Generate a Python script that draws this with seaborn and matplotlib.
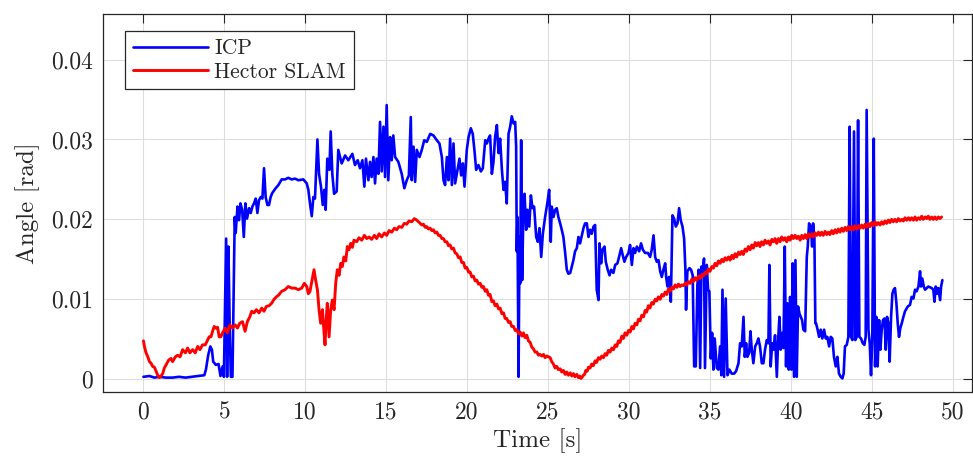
import matplotlib
matplotlib.use("Agg")
import matplotlib.pyplot as plt
from matplotlib.ticker import FuncFormatter
import numpy as np
import pandas as pd
import seaborn as sns

# ---------------- data ----------------
icp_t = [0, .37, .68, .99, 1.4, 1.8, 2.2, 2.6, 3.0, 3.45, 3.76, 3.86, 4.0, 4.13, 4.23, 4.31, 4.47, 4.64, 4.76, 4.89, 4.97,
         5.11, 5.17, 5.25, 5.34, 5.4, 5.5, 5.64, 5.7, 5.81, 5.91, 5.99, 6.1, 6.2, 6.3, 6.4, 6.53, 6.63, 6.73, 6.83, 6.94,
         7.04, 7.14, 7.25, 7.35, 7.45, 7.55, 7.66, 7.76, 7.86, 7.96, 8.17,
         8.34, 8.54, 8.75, 8.95, 9.16, 9.37, 9.57, 9.88, 10.09, 10.19, 10.29, 10.4, 10.5, 10.6, 10.75, 10.85, 10.97, 11.08,
         11.18, 11.26, 11.36, 11.49, 11.57, 11.67, 11.78, 11.94, 12.04, 12.15, 12.25, 12.46, 12.66, 12.91, 13.07, 13.24,
         13.38, 13.53, 13.65, 13.75, 13.9, 14.0, 14.1, 14.21, 14.31, 14.41, 14.52, 14.62, 14.72, 14.83, 14.93, 15.03,
         15.13, 15.24, 15.34, 15.44, 15.55, 15.75, 15.96, 16.12, 16.27, 16.4,
         16.52, 16.58, 16.69, 16.79, 16.89, 17.06, 17.2, 17.35, 17.51, 17.72, 17.92, 18.13, 18.29, 18.44, 18.54, 18.64,
         18.75, 18.85, 18.95, 19.06, 19.16, 19.26, 19.41, 19.53, 19.63, 19.74, 19.84, 19.98, 20.09, 20.23, 20.35, 20.46,
         20.56, 20.7, 20.85, 20.97, 21.12, 21.22, 21.32, 21.42, 21.53, 21.63, 21.73, 21.84, 21.94, 22.04, 22.15, 22.25,
         22.35, 22.45, 22.56, 22.66, 22.76, 22.87, 22.97, 23.03, 23.07, 23.11, 23.18, 23.24, 23.28, 23.34, 23.4, 23.48,
         23.55, 23.65, 23.73, 23.84, 23.94, 24.04, 24.14, 24.27, 24.37, 24.47, 24.58, 24.68, 24.82, 24.97,
         25.07, 25.17, 25.23, 25.34, 25.44, 25.54, 25.64, 25.75, 25.85, 25.95, 26.06, 26.16, 26.26, 26.37, 26.47, 26.57,
         26.67, 26.78, 26.88, 26.98, 27.09, 27.19, 27.29, 27.4, 27.5, 27.6, 27.7, 27.81, 27.91, 28.01, 28.12, 28.18, 28.28,
         28.36, 28.49, 28.57, 28.69, 28.8, 28.9, 29.04, 29.15, 29.29, 29.39, 29.52, 29.62, 29.72, 29.83, 29.97, 30.07,
         30.18, 30.28, 30.38, 30.49, 30.63, 30.75, 30.86, 31.0, 31.17, 31.31, 31.41, 31.52, 31.62, 31.72, 31.83, 31.93,
         32.03, 32.13, 32.24, 32.3, 32.38, 32.48, 32.59, 32.69, 32.79, 32.9, 33.0, 33.1, 33.2, 33.31,
         33.41, 33.49, 33.53, 33.61, 33.74, 33.84, 33.94, 34.03, 34.13, 34.23, 34.31, 34.4, 34.48, 34.56, 34.64, 34.7,
         34.81, 34.89, 34.97, 35.06, 35.14, 35.22, 35.3, 35.43, 35.53, 35.63, 35.71, 35.78, 35.88, 35.98, 36.09, 36.21,
         36.35, 36.5, 36.62, 36.77, 36.87, 36.97, 37.08, 37.16, 37.24, 37.32, 37.43, 37.51, 37.59, 37.69, 37.8, 37.9,
         38.0, 38.1, 38.21, 38.31, 38.41, 38.52, 38.62, 38.68, 38.76, 38.85, 38.93, 39.03, 39.14, 39.22, 39.3, 39.38,
         39.46, 39.55, 39.63, 39.71, 39.79, 39.88, 39.96, 40.04, 40.12, 40.2, 40.29, 40.37, 40.45, 40.54, 40.62, 40.7,
         40.78, 40.89, 40.99, 41.05, 41.13, 41.24, 41.32, 41.38, 41.46, 41.52,
         41.56, 41.66, 41.75, 41.85, 41.95, 42.06, 42.16, 42.26, 42.37, 42.47, 42.57, 42.67, 42.78, 42.88, 42.98, 43.09,
         43.19, 43.27, 43.35, 43.46, 43.56, 43.64, 43.72, 43.81, 43.91, 43.99, 44.08, 44.16, 44.24, 44.34, 44.45, 44.55,
         44.63, 44.69, 44.8, 44.88, 44.96, 45.04, 45.13, 45.21, 45.29, 45.37, 45.46, 45.54, 45.62, 45.7, 45.79, 45.87,
         45.95, 46.03, 46.11, 46.2, 46.28, 46.36, 46.44, 46.53, 46.61, 46.69, 46.77, 46.86, 46.96, 47.06, 47.23, 47.37,
         47.47, 47.58, 47.68, 47.78, 47.89, 47.99, 48.05, 48.13, 48.22, 48.3, 48.4, 48.5, 48.61, 48.71, 48.81, 48.88,
         48.96, 49.04, 49.12, 49.23, 49.29, 49.37]
icp_v = [.0003, .0004, .0002, .0003, .0002, .0002, .0003, .0002, .0003, .0004, .0005, .0012, .0030, .0041, .0037, .0022,
         .0018, .0019, .0004, .0016, .0003, .0176, .0003, .0166, .0053, .0003, .0003, .0203, .0183, .0216, .0199, .0220,
         .0212, .0178, .0220, .0201, .0214, .0208, .0216, .0220, .0226, .0208, .0224, .0228, .0226, .0264, .0228, .0218,
         .0218, .0228, .0233, .0239,
         .0243, .0250, .0250, .0252, .0250, .0251, .0249, .0250, .0245, .0237, .0220, .0204, .0228, .0226, .0300, .0257,
         .0241, .0218, .0237, .0212, .0276, .0262, .0310, .0257, .0232, .0235, .0287, .0278, .0270, .0280, .0274, .0282,
         .0268, .0274, .0264, .0274, .0241, .0276, .0249, .0272, .0253, .0278, .0245, .0276, .0257, .0322, .0260, .0316,
         .0253, .0343, .0249, .0303, .0274, .0305, .0278, .0272, .0257, .0239, .0249, .0255,
         .0328, .0249, .0291, .0247, .0287, .0278, .0287, .0299, .0297, .0307, .0305, .0299, .0295, .0278, .0249, .0243,
         .0278, .0249, .0301, .0243, .0295, .0245, .0262, .0276, .0255, .0270, .0241, .0287, .0303, .0314, .0307, .0285,
         .0262, .0268, .0260, .0264, .0299, .0295, .0301, .0305, .0257, .0272, .0303, .0318, .0283, .0301, .0262, .0237,
         .0247, .0220, .0307, .0316, .0329, .0320, .0322, .0291, .0160, .0203, .0003, .0178, .0120, .0299, .0124, .0212,
         .0232, .0187, .0212, .0191, .0230, .0214, .0216, .0178, .0172, .0189, .0153, .0182, .0203, .0222,
         .0237, .0172, .0216, .0203, .0212, .0214, .0203, .0195, .0187, .0178, .0158, .0137, .0132, .0133, .0141, .0149,
         .0160, .0164, .0178, .0170, .0180, .0189, .0195, .0195, .0178, .0187, .0182, .0191, .0193, .0112, .0099, .0170,
         .0145, .0162, .0166, .0147, .0137, .0130, .0137, .0133, .0143, .0145, .0153, .0164, .0155, .0147, .0153, .0158,
         .0168, .0143, .0164, .0158, .0166, .0160, .0170, .0162, .0158, .0158, .0153, .0162, .0180, .0153, .0147, .0149,
         .0135, .0128, .0137, .0145, .0128, .0116, .0128, .0097, .0205, .0201, .0191, .0195, .0214, .0199, .0191,
         .0176, .0137, .0087, .0135, .0139, .0137, .0130, .0016, .0016, .0118, .0137, .0014, .0141, .0135, .0151, .0014,
         .0143, .0112, .0110, .0026, .0058, .0012, .0051, .0014, .0012, .0041, .0005, .0112, .0003, .0101, .0005, .0012,
         .0007, .0007, .0010, .0020, .0045, .0041, .0078, .0028, .0045, .0028, .0033, .0060, .0037, .0020, .0041, .0045,
         .0051, .0041, .0020, .0020, .0037, .0049, .0045, .0143, .0016, .0045, .0037, .0055, .0003, .0049, .0078, .0037,
         .0058, .0039, .0166, .0016, .0095, .0012, .0103, .0012, .0145, .0003, .0149, .0003, .0091, .0082, .0078, .0074,
         .0062, .0060, .0153, .0166, .0195, .0191, .0166, .0195, .0178, .0070,
         .0070, .0062, .0053, .0062, .0051, .0062, .0051, .0053, .0041, .0053, .0051, .0028, .0016, .0028, .0007, .0003,
         .0001, .0007, .0041, .0043, .0053, .0316, .0053, .0049, .0310, .0049, .0053, .0324, .0053, .0051, .0045, .0043,
         .0053, .0337, .0062, .0045, .0005, .0053, .0301, .0016, .0078, .0016, .0074, .0037, .0062, .0074, .0076, .0037,
         .0078, .0070, .0022, .0078, .0107, .0112, .0114, .0095, .0070, .0053, .0064, .0070, .0078, .0085, .0091, .0093,
         .0103, .0101, .0112, .0110, .0116, .0135, .0116, .0126, .0116, .0112, .0114, .0116, .0115, .0114, .0112, .0097,
         .0116, .0107, .0114, .0099, .0116, .0124]

hector_t = [0, .06, .16, .27, .37, .47, .57, .68, .78, .88, .99, 1.09, 1.19, 1.29, 1.4, 1.56, 1.7, 1.8, 1.97, 2.11, 2.26,
            2.42, 2.59, 2.73, 2.87, 3.04, 3.2, 3.35, 3.49, 3.65, 3.82, 3.96, 4.06, 4.17, 4.27, 4.37, 4.47, 4.58, 4.68,
            4.78, 4.89, 5.05, 5.19, 5.34, 5.5, 5.67, 5.81, 5.95, 6.12, 6.28, 6.42, 6.57, 6.69, 6.83, 6.98, 7.14, 7.31,
            7.45, 7.59, 7.76, 7.92, 8.07, 8.21,
            8.34, 8.54, 8.75, 8.95, 9.16, 9.37, 9.57, 9.78, 9.94, 10.09, 10.19, 10.29, 10.44, 10.54, 10.64, 10.75, 10.85,
            10.95, 11.06, 11.16, 11.22, 11.28, 11.36, 11.47, 11.57, 11.67, 11.78, 11.88, 11.98, 12.09, 12.19, 12.29,
            12.39, 12.5, 12.6, 12.7, 12.81, 12.91, 13.01, 13.18, 13.32, 13.49, 13.65, 13.8, 13.94, 14.1, 14.27, 14.41,
            14.56, 14.72, 14.89, 15.03, 15.18, 15.34, 15.51, 15.65, 15.79, 15.96, 16.12, 16.27, 16.41, 16.58, 16.74,
            16.89, 17.0, 17.1, 17.2, 17.3, 17.41, 17.51, 17.61, 17.72, 17.82, 17.92, 18.03, 18.13, 18.23, 18.33, 18.44,
            18.54, 18.64, 18.75, 18.85, 18.95, 19.05, 19.16, 19.26, 19.36, 19.47, 19.57, 19.67, 19.78, 19.88, 19.98,
            20.09, 20.19, 20.29, 20.39, 20.5, 20.6, 20.7, 20.81, 20.91, 21.01, 21.12, 21.22, 21.32, 21.42, 21.53, 21.63,
            21.73, 21.84, 21.94, 22.04, 22.15, 22.25, 22.35, 22.45, 22.56, 22.66, 22.76, 22.87, 22.97, 23.07, 23.17,
            23.28, 23.38, 23.48, 23.58, 23.69, 23.79, 23.9, 24.0, 24.1, 24.2, 24.31, 24.41, 24.51, 24.62, 24.72, 24.82,
            24.93,
            25.03, 25.13, 25.23, 25.33, 25.44, 25.54, 25.64, 25.75, 25.85, 25.95, 26.06, 26.16, 26.26, 26.37, 26.47,
            26.57, 26.67, 26.78, 26.88, 26.96, 27.04, 27.12, 27.19, 27.26, 27.33, 27.42, 27.5, 27.6, 27.7, 27.8, 27.91,
            28.0, 28.12, 28.22, 28.32, 28.43, 28.53, 28.63, 28.73, 28.84, 28.94, 29.05, 29.15, 29.25, 29.35, 29.45,
            29.56, 29.66, 29.76, 29.87, 29.97, 30.08, 30.18, 30.28, 30.38, 30.49, 30.59, 30.69, 30.79, 30.9, 31.0, 31.1,
            31.2, 31.3, 31.41, 31.51, 31.62, 31.72, 31.82, 31.93, 32.03, 32.13, 32.24, 32.34, 32.44, 32.55, 32.65,
            32.75, 32.85, 32.96, 33.06, 33.16, 33.27,
            33.37, 33.47, 33.57, 33.68, 33.78, 33.88, 33.98, 34.09, 34.19, 34.3, 34.4, 34.5, 34.6, 34.71, 34.81, 34.91,
            35.01, 35.12, 35.22, 35.32, 35.43, 35.53, 35.63, 35.74, 35.84, 35.94, 36.04, 36.15, 36.25, 36.36, 36.46,
            36.56, 36.66, 36.77, 36.87, 36.97, 37.07, 37.18, 37.28, 37.38, 37.49, 37.59, 37.69, 37.8, 37.9, 38.0, 38.1,
            38.2, 38.31, 38.41, 38.52, 38.62, 38.72, 38.83, 38.93, 39.03, 39.13, 39.24, 39.34, 39.44, 39.55, 39.65,
            39.75, 39.86, 39.96, 40.06, 40.16, 40.27, 40.37, 40.47, 40.58, 40.68, 40.78, 40.89, 40.99, 41.09, 41.19,
            41.3, 41.4,
            41.5, 41.61, 41.71, 41.81, 41.91, 42.01, 42.12, 42.22, 42.32, 42.42, 42.53, 42.63, 42.74, 42.84, 42.94,
            43.05, 43.15, 43.25, 43.36, 43.46, 43.56, 43.66, 43.77, 43.87, 43.97, 44.07, 44.18, 44.28, 44.38, 44.48,
            44.59, 44.69, 44.8, 44.9, 45.0, 45.1, 45.21, 45.31, 45.41, 45.52, 45.62, 45.72, 45.82, 45.93, 46.03, 46.13,
            46.23, 46.34, 46.44, 46.54, 46.65, 46.75, 46.86, 46.96, 47.06, 47.16, 47.27, 47.37, 47.47, 47.58, 47.68,
            47.78, 47.89, 47.99, 48.09, 48.19, 48.3, 48.4, 48.5, 48.6, 48.71, 48.81, 48.91, 49.01, 49.12, 49.22, 49.32]
hector_v = [.0048, .0041, .0033, .0028, .0022, .0020, .0016, .0015, .0010, .0005, .0002, .0004, .0007, .0014, .0018,
            .0024, .0026, .0022, .0028, .0030, .0028, .0037, .0033, .0039, .0033, .0037, .0033, .0041, .0037, .0043,
            .0043, .0049, .0053, .0053, .0060, .0066, .0064, .0065, .0053, .0053, .0058, .0064, .0058, .0068, .0064,
            .0068, .0064, .0070, .0072, .0060, .0072, .0078, .0085, .0083, .0087, .0083, .0089, .0085, .0091, .0092,
            .0095, .0100, .0103,
            .0105, .0110, .0112, .0116, .0114, .0114, .0112, .0114, .0120, .0116, .0107, .0110, .0126, .0137, .0124,
            .0112, .0087, .0070, .0087, .0058, .0043, .0070, .0095, .0053, .0087, .0099, .0087, .0120, .0137, .0130,
            .0145, .0141, .0153, .0148, .0166, .0162, .0170, .0165, .0174, .0172, .0177, .0174, .0180, .0176, .0178,
            .0175, .0180, .0176, .0182, .0178, .0183, .0180, .0186, .0184, .0189, .0187, .0191, .0190, .0195, .0194,
            .0198, .0197, .0201,
            .0199, .0197, .0195, .0193, .0194, .0190, .0191, .0188, .0189, .0186, .0187, .0183, .0184, .0180, .0180,
            .0176, .0176, .0172, .0172, .0167, .0168, .0163, .0164, .0158, .0157, .0152, .0153, .0146, .0146, .0139,
            .0140, .0134, .0134, .0128, .0129, .0123, .0124, .0119, .0120, .0115, .0116, .0110, .0112, .0105, .0106,
            .0097, .0098, .0092, .0094, .0088, .0089, .0082, .0083, .0076, .0076, .0071, .0072, .0066, .0066, .0061,
            .0062, .0057, .0059, .0054, .0058, .0052, .0055, .0048, .0046, .0040, .0038, .0034, .0034, .0030, .0031,
            .0029, .0031, .0027, .0029,
            .0028, .0027, .0022, .0019, .0014, .0016, .0012, .0013, .0009, .0011, .0006, .0009, .0005, .0008, .0004,
            .0007, .0003, .0006, .0002, .0004, .0001, .0003, .0005, .0006, .0011, .0010, .0015, .0014, .0019, .0017,
            .0023, .0021, .0027, .0025, .0029, .0027, .0032, .0030, .0036, .0034, .0039, .0037, .0043, .0041, .0048,
            .0046, .0054, .0051, .0058, .0055, .0061, .0059, .0066, .0063, .0070, .0068, .0075, .0073, .0080, .0078,
            .0086, .0084, .0092, .0089, .0096, .0094, .0100, .0098, .0103, .0100, .0106, .0104, .0109, .0106, .0113,
            .0110, .0115, .0113, .0118, .0115, .0119, .0116, .0118,
            .0117, .0120, .0118, .0122, .0120, .0125, .0122, .0127, .0124, .0129, .0126, .0131, .0129, .0134, .0132,
            .0138, .0135, .0141, .0139, .0145, .0142, .0148, .0145, .0150, .0147, .0152, .0149, .0153, .0149, .0155,
            .0151, .0157, .0153, .0159, .0156, .0160, .0156, .0163, .0160, .0166, .0162, .0168, .0164, .0171, .0167,
            .0171, .0166, .0172, .0168, .0174, .0170, .0173, .0168, .0175, .0172, .0176, .0170, .0176, .0172, .0178,
            .0174, .0177, .0172, .0178, .0174, .0180, .0176, .0180, .0176, .0179, .0174, .0180, .0176, .0181, .0176,
            .0182, .0178, .0182, .0178,
            .0183, .0180, .0184, .0180, .0184, .0180, .0185, .0181, .0184, .0181, .0186, .0182, .0187, .0183, .0188,
            .0184, .0189, .0185, .0190, .0186, .0191, .0187, .0191, .0187, .0192, .0188, .0192, .0189, .0193, .0189,
            .0194, .0190, .0195, .0191, .0196, .0192, .0197, .0193, .0196, .0193, .0197, .0194, .0198, .0195, .0199,
            .0196, .0200, .0197, .0200, .0197, .0201, .0198, .0200, .0198, .0202, .0199, .0202, .0199, .0202, .0199,
            .0203, .0199, .0202, .0200, .0204, .0200, .0203, .0201, .0204, .0200, .0203, .0200, .0203, .0200, .0203,
            .0201, .0203]

x_ticks = [0, 5, 10, 15, 20, 25, 30, 35, 40, 45, 50]
y_ticks = [0, 0.01, 0.02, 0.03, 0.04]
series_names = ["ICP", "Hector SLAM"]
series_colors = ["#0000FF", "#FF0000"]

# ---------------- style ----------------
sns.set_theme(style="whitegrid")
plt.rcParams["font.family"] = ["cmr10", "DejaVu Serif"]
plt.rcParams["mathtext.fontset"] = "cm"
plt.rcParams["axes.formatter.use_mathtext"] = True

W, H = 973, 459
fig = plt.figure(figsize=(W / 100, H / 100), dpi=100)
fig.patch.set_facecolor("white")
left, right, top, bottom = 103, 972, 14, 392
ax = fig.add_axes([left / W, 1 - bottom / H, (right - left) / W, (bottom - top) / H])
ax.set_facecolor("white")

df_icp = pd.DataFrame({"t": icp_t, "v": icp_v})
df_hec = pd.DataFrame({"t": hector_t, "v": hector_v})
sns.lineplot(data=df_icp, x="t", y="v", color=series_colors[0], lw=1.9, estimator=None, sort=False,
             ax=ax, legend=False)
sns.lineplot(data=df_hec, x="t", y="v", color=series_colors[1], lw=2.1, estimator=None, sort=False,
             ax=ax, legend=False)

ax.set_xlim(-2.5, 51.2)
ax.set_ylim(-0.0016, 0.0457)
ax.set_xticks(x_ticks)
ax.set_yticks(y_ticks)
ax.yaxis.set_major_formatter(FuncFormatter(lambda v, p: "0" if abs(v) < 1e-12 else f"{v:.2f}"))
ax.xaxis.set_major_formatter(FuncFormatter(lambda v, p: f"{v:g}"))

ax.grid(True, color="#dedede", lw=0.8)
for s in ax.spines.values():
    s.set_color("#262626")
    s.set_linewidth(0.9)
ax.tick_params(direction="in", top=True, right=True, length=6.5, width=0.8, colors="#262626",
               labelsize=17, pad=7, labelcolor="#262626")

ax.set_xlabel("Time [s]", fontsize=18, color="#262626", labelpad=3)
ax.set_ylabel("Angle [rad]", fontsize=18, color="#262626", labelpad=8)

lines = ax.get_lines()
leg = ax.legend(handles=lines[:2], labels=series_names, loc="upper left",
                bbox_to_anchor=(22 / 869, (392 - 31) / 378), borderaxespad=0,
                fontsize=15.5, handlelength=3.5, handletextpad=0.3, labelspacing=0.2,
                borderpad=0.35, fancybox=False, framealpha=1, edgecolor="#262626")
leg.get_frame().set_linewidth(0.9)
for t in leg.get_texts():
    t.set_color("#262626")

fig.savefig("out.png", dpi=100, facecolor="white")
